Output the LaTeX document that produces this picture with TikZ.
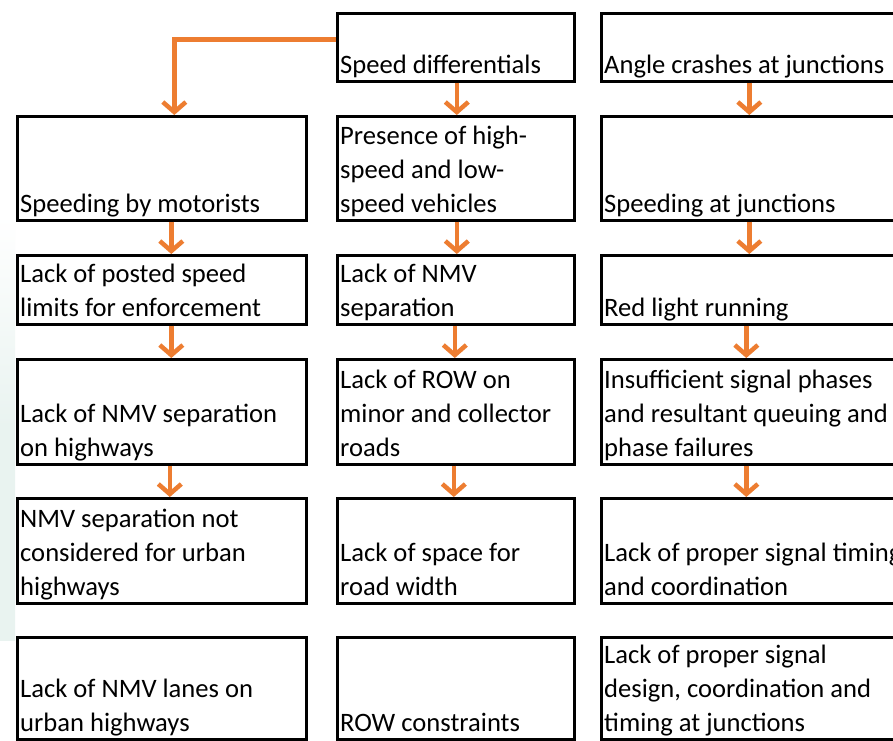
\documentclass[tikz,border=0pt]{standalone}
\usepackage{fontspec}
\setmainfont{Carlito}
\usetikzlibrary{arrows.meta}
\definecolor{flow}{HTML}{ED7D31}
\definecolor{haze}{HTML}{E9F3F0}
\tikzset{
  box/.style={draw=black, line width=2.6pt, inner sep=0pt, anchor=north west},
  txt/.style={inner sep=0pt, anchor=south west, align=left,
    font=\fontsize{26.6}{34}\selectfont},
  arr/.style={draw=flow, line width=4.5pt, line join=miter,
    -{Straight Barb[length=10pt, width=23pt]}}
}
% \causebox{name}{x}{y}{width}{height}{text}
\newcommand\causebox[6]{%
  \node[box, minimum width=#4, minimum height=#5] (#1) at (#2,#3) {};
  \node[txt] (#1t) at ([shift={(4,1)}]#1.south west) {#6\strut};
}
\begin{document}
\begin{tikzpicture}[x=1pt, y=-1pt]
\useasboundingbox (0,0) rectangle (893,740);
\clip (0,0) rectangle (893,740);
\fill[white] (0,0) rectangle (893,740);
% faint backdrop along the left margin
\shade[top color=white, bottom color=haze, middle color=haze]
  (0,215) rectangle (15,640);

% left column
\causebox{l2}{16}{115}{289}{104}{Speeding by motorists}
\causebox{l3}{16}{254}{289}{69}{Lack of posted speed\\limits for enforcement}
\causebox{l4}{16}{358}{289}{105}{Lack of NMV separation\\on highways}
\causebox{l5}{16}{497}{289}{105}{NMV separation not\\considered for urban\\highways}
\causebox{l6}{16}{636}{289}{102}{Lack of NMV lanes on\\urban highways}

% middle column
\causebox{m1}{336}{12}{237}{68}{Speed differentials}
\causebox{m2}{336}{115}{237}{104}{Presence of high-\\speed and low-\\speed vehicles}
\causebox{m3}{336}{254}{237}{69}{Lack of NMV\\separation}
\causebox{m4}{336}{358}{237}{105}{Lack of ROW on\\minor and collector\\roads}
\causebox{m5}{336}{497}{237}{105}{Lack of space for\\road width}
\causebox{m6}{336}{636}{237}{102}{ROW constraints}

% right column
\causebox{r1}{600}{12}{297}{68}{Angle crashes at junctions}
\causebox{r2}{600}{115}{297}{104}{Speeding at junctions}
\causebox{r3}{600}{254}{297}{69}{Red light running}
\causebox{r4}{600}{358}{297}{105}{Insufficient signal phases\\and resultant queuing and\\phase failures}
\causebox{r5}{600}{497}{297}{105}{Lack of proper signal timing\\and coordination}
\causebox{r6}{600}{636}{297}{102}{Lack of proper signal\\design, coordination and\\timing at junctions}

% connectors
\draw[arr] ([yshift=8pt]m1.west) -| ([xshift=12.5pt]l2.north);
\draw[arr] ([xshift=9.5pt]l2.south) -- ([xshift=9.5pt]l3.north);
\draw[arr] ([xshift=9.5pt]l3.south) -- ([xshift=9.5pt]l4.north);
\draw[arr] ([xshift=8pt]l4.south) -- ([xshift=8pt]l5.north);

\draw[arr] ([xshift=1pt]m1.south) -- ([xshift=1pt]m2.north);
\draw[arr] ([xshift=1pt]m2.south) -- ([xshift=1pt]m3.north);
\draw[arr] ([xshift=-1pt]m3.south) -- ([xshift=-1pt]m4.north);
\draw[arr] ([xshift=-2pt]m4.south) -- ([xshift=-2pt]m5.north);

\draw[arr] ([xshift=-0.5pt]r1.south) -- ([xshift=-0.5pt]r2.north);
\draw[arr] ([xshift=-0.5pt]r2.south) -- ([xshift=-0.5pt]r3.north);
\draw[arr] ([xshift=-3.5pt]r3.south) -- ([xshift=-3.5pt]r4.north);
\draw[arr] ([xshift=-3.5pt]r4.south) -- ([xshift=-3.5pt]r5.north);
\end{tikzpicture}
\end{document}
